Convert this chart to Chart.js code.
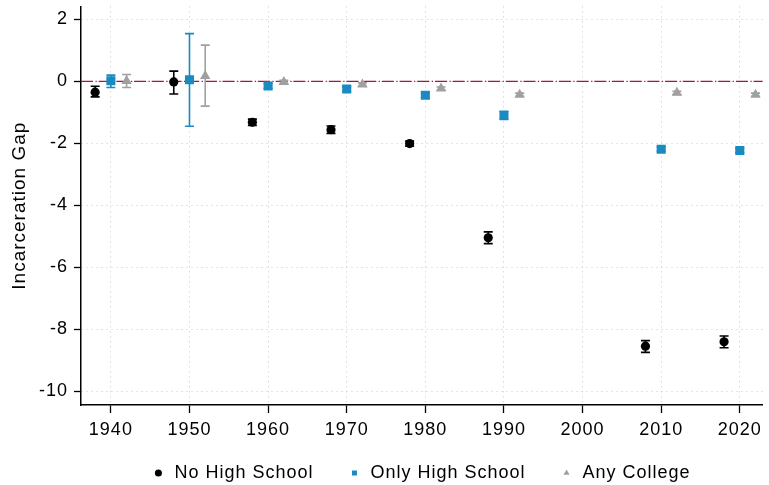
<!DOCTYPE html>
<html>
<head>
<meta charset="utf-8">
<script src="https://cdn.jsdelivr.net/npm/chart.js@4"></script>
<style>
  html, body { margin: 0; padding: 0; background: #fff; }
  #wrap { width: 769px; height: 485px; position: relative; }
</style>
</head>
<body>
<div id="wrap"><canvas id="gap"></canvas></div>
<script>
// tick labels
const X_TICKS = [1940, 1950, 1960, 1970, 1980, 1990, 2000, 2010, 2020];
const Y_TICKS = [-10, -8, -6, -4, -2, 0, 2];

// No High School (offset -2 yrs)
const NOHS_X  = [1938, 1948, 1958, 1968, 1978, 1988, 2008, 2018];
const NOHS_Y  = [-0.35, -0.02, -1.32, -1.56, -2.01, -5.05, -8.55, -8.41];
const NOHS_LO = [-0.50, -0.41, -1.42, -1.68, -2.09, -5.24, -8.75, -8.60];
const NOHS_HI = [-0.16, 0.33, -1.22, -1.44, -1.93, -4.86, -8.37, -8.22];

// Only High School
const OHS_X  = [1940, 1950, 1960, 1970, 1980, 1990, 2010, 2020];
const OHS_Y  = [0.02, 0.05, -0.15, -0.25, -0.45, -1.10, -2.19, -2.23];
const OHS_LO = [-0.20, -1.45, -0.23, -0.33, -0.53, -1.23, -2.26, -2.30];
const OHS_HI = [0.20, 1.54, -0.07, -0.17, -0.37, -0.97, -2.12, -2.16];

// Any College (offset +2 yrs)
const COL_X  = [1942, 1952, 1962, 1972, 1982, 1992, 2012, 2022];
const COL_Y  = [0.01, 0.17, -0.02, -0.10, -0.23, -0.43, -0.37, -0.43];
const COL_LO = [-0.20, -0.80, -0.07, -0.15, -0.28, -0.48, -0.42, -0.48];
const COL_HI = [0.22, 1.17, 0.03, -0.05, -0.18, -0.38, -0.32, -0.38];

const FONT = 'Liberation Sans, Arial, sans-serif';

function series(label, xs, ys, lo, hi, color, style, r) {
    return {
        label, pointStyle: style, pointRadius: r, pointHoverRadius: r,
        backgroundColor: color, borderColor: color, borderWidth: 0,
        errLo: lo, errHi: hi,
        data: xs.map((x, i) => ({ x, y: ys[i] })),
    };
}

// reference text is a bit wider than Liberation Sans
const spacing = {
    id: 'spacing',
    beforeLayout(chart) { chart.ctx.letterSpacing = '1px'; },
    afterLayout(chart) {
        // x axis box is kept short so the legend sits close; don't clip its labels
        chart.scales.x.bottom = chart.height;
        // legend centering counts trailing padding, nudge it back
        const lg = chart.legend;
        lg.left += 38; lg.right += 38; lg.top += 2; lg.bottom += 2;
    },
    beforeDraw(chart) { chart.ctx.letterSpacing = '1px'; },
};

// zero reference line + error bars, drawn under the markers
const extras = {
    id: 'extras',
    beforeDatasetsDraw(chart) {
        const { ctx, chartArea: a, scales: { x, y } } = chart;
        ctx.save();
        const y0 = y.getPixelForValue(0);
        ctx.strokeStyle = '#b01040';
        ctx.lineWidth = 1.3;
        ctx.setLineDash([12, 2.5, 1.2, 2]);
        ctx.beginPath(); ctx.moveTo(a.left, y0); ctx.lineTo(a.right, y0); ctx.stroke();
        ctx.setLineDash([]);
        chart.data.datasets.forEach((ds) => {
            ctx.strokeStyle = ds.borderColor;
            ctx.lineWidth = 1.6;
            ds.data.forEach((p, i) => {
                const px = x.getPixelForValue(p.x);
                const t = y.getPixelForValue(ds.errHi[i]);
                const b = y.getPixelForValue(ds.errLo[i]);
                ctx.beginPath();
                ctx.moveTo(px, t); ctx.lineTo(px, b);
                ctx.moveTo(px - 4.5, t); ctx.lineTo(px + 4.5, t);
                ctx.moveTo(px - 4.5, b); ctx.lineTo(px + 4.5, b);
                ctx.stroke();
            });
        });
        ctx.restore();
    },
};

new Chart(document.getElementById('gap'), {
    type: 'scatter',
    data: {
        datasets: [
            series('No High School', NOHS_X, NOHS_Y, NOHS_LO, NOHS_HI, '#000000', 'circle', 4.6),
            series('Only High School', OHS_X, OHS_Y, OHS_LO, OHS_HI, '#1a8ac0', 'rect', 6.4),
            series('Any College', COL_X, COL_Y, COL_LO, COL_HI, '#a0a0a0', 'triangle', 6),
        ],
    },
    plugins: [spacing, extras],
    options: {
        responsive: true, maintainAspectRatio: false, animation: false,
        layout: { padding: { top: 6, right: 3, left: 0, bottom: -5 } },
        plugins: {
            tooltip: { enabled: false },
            legend: {
                position: 'bottom',
                labels: {
                    usePointStyle: true, boxHeight: 5, boxWidth: 14, padding: 34,
                    color: '#000', font: { family: FONT, size: 18 },
                },
            },
        },
        scales: {
            x: {
                type: 'linear', min: 1936.2, max: 2022.9,
                afterBuildTicks: (s) => { s.ticks = X_TICKS.map((v) => ({ value: v })); },
                afterFit: (s) => { s.height = 23; s.paddingLeft = 0; s.paddingRight = 0; },
                grid: { color: '#c8c8c8', lineWidth: 1, tickColor: '#000', tickLength: 8, tickWidth: 1.3, tickBorderDash: [] },
                border: { color: '#000', width: 1.5, dash: [1, 4] },
                ticks: { color: '#000', font: { family: FONT, size: 18 }, padding: 6, maxRotation: 0, callback: (v) => String(v) },
            },
            y: {
                type: 'linear', min: -10.45, max: 2.42,
                afterBuildTicks: (s) => { s.ticks = Y_TICKS.map((v) => ({ value: v })); },
                afterFit: (s) => { s.width = 81; s.paddingTop = 0; s.paddingBottom = 0; },
                grid: { color: '#c8c8c8', lineWidth: 1, tickColor: '#000', tickLength: 7, tickWidth: 1.3, tickBorderDash: [] },
                border: { color: '#000', width: 1.5, dash: [1, 4] },
                title: { display: true, text: 'Incarceration Gap', color: '#000', font: { family: FONT, size: 19 }, padding: { top: 8, bottom: 0 } },
                ticks: { color: '#000', font: { family: FONT, size: 18 }, padding: 6, callback: (v) => String(v) },
            },
        },
    },
});
</script>
</body>
</html>
